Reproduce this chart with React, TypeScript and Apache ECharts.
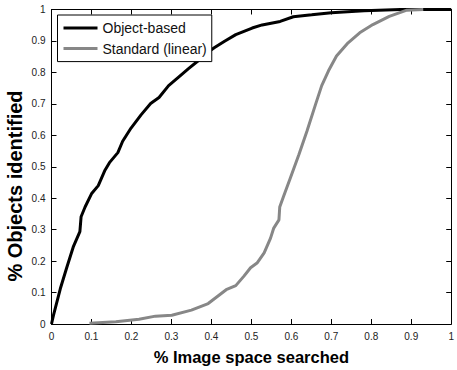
import React, { useEffect, useRef } from "react";
import * as echarts from "echarts";

const seriesNames = ["Object-based", "Standard (linear)"];

const objectX = [0, 0.005, 0.022, 0.038, 0.055, 0.071, 0.074, 0.084, 0.1, 0.117, 0.133, 0.145, 0.166, 0.178, 0.199, 0.224, 0.248, 0.269, 0.293, 0.318, 0.342, 0.367, 0.384, 0.408, 0.433, 0.461, 0.502, 0.527, 0.572, 0.605, 0.651, 0.7, 0.782, 0.873, 1];
const objectY = [0, 0.028, 0.112, 0.179, 0.247, 0.294, 0.341, 0.372, 0.414, 0.44, 0.487, 0.513, 0.545, 0.581, 0.623, 0.665, 0.701, 0.72, 0.758, 0.785, 0.811, 0.837, 0.858, 0.879, 0.899, 0.92, 0.941, 0.951, 0.962, 0.977, 0.983, 0.99, 0.996, 1, 1];

const standardX = [0.095, 0.161, 0.219, 0.26, 0.301, 0.35, 0.392, 0.437, 0.461, 0.482, 0.498, 0.515, 0.532, 0.548, 0.556, 0.569, 0.571, 0.58, 0.598, 0.619, 0.639, 0.66, 0.676, 0.693, 0.713, 0.742, 0.771, 0.804, 0.845, 0.889, 0.93];
const standardY = [0.002, 0.007, 0.015, 0.025, 0.028, 0.044, 0.065, 0.109, 0.122, 0.153, 0.179, 0.195, 0.226, 0.273, 0.305, 0.331, 0.372, 0.404, 0.466, 0.539, 0.613, 0.696, 0.758, 0.805, 0.852, 0.894, 0.926, 0.952, 0.978, 0.998, 1];

const xTitle = "% Image space searched";
const yTitle = "% Objects identified";

const fmt = (v: number) => String(Math.round(v * 10) / 10);

const lineIcon = "path://M0,0H0.01V0.01H0Z M0,5.5H34V8.5H0Z M33.99,13.99H34V14H33.99Z";

export default function App() {
  const ref = useRef<HTMLDivElement>(null);
  useEffect(() => {
    if (!ref.current) return;
    const chart = echarts.init(ref.current, undefined, { renderer: "svg" });
    const font = "Liberation Sans, Arial, Helvetica, sans-serif";
    const tickCommon = {
      min: 0,
      max: 1,
      interval: 0.1,
      type: "value" as const,
      splitLine: { show: false },
      axisLine: { show: true, onZero: false, lineStyle: { color: "#000", width: 1 } },
      axisTick: { show: true, inside: true, length: 5, lineStyle: { color: "#000" } },
    };
    chart.setOption({
      animation: false,
      backgroundColor: "#fff",
      grid: { left: 51.5, right: 1, top: 9.5, bottom: 41, containLabel: false },
      legend: {
        orient: "vertical",
        left: 57.5,
        top: 15,
        padding: [6, 5, 6, 6],
        itemGap: 6.6,
        itemWidth: 34,
        itemHeight: 14,
        icon: lineIcon,
        backgroundColor: "#fff",
        borderColor: "#000",
        borderWidth: 1,
        borderRadius: 0,
        textStyle: { fontFamily: font, fontSize: 14, color: "#111" },
        data: seriesNames,
      },
      graphic: [
        {
          type: "text",
          x: 15,
          y: 186,
          rotation: Math.PI / 2,
          style: {
            text: yTitle,
            fontFamily: font,
            fontSize: 20,
            fontWeight: "bold",
            fill: "#000",
            align: "center",
            verticalAlign: "middle",
          },
        },
      ],
      xAxis: [
        {
          ...tickCommon,
          position: "bottom",
          name: xTitle,
          nameLocation: "middle",
          nameGap: 24,
          nameTextStyle: { fontFamily: font, fontSize: 16.5, fontWeight: "bold", color: "#000" },
          axisLabel: { fontFamily: font, fontSize: 10, color: "#222", margin: 7.5, formatter: fmt },
        },
        {
          ...tickCommon,
          position: "top",
          axisLabel: { show: false },
        },
      ],
      yAxis: [
        {
          ...tickCommon,
          position: "left",
          axisLabel: { fontFamily: font, fontSize: 10, color: "#222", margin: 6, formatter: fmt },
        },
        {
          ...tickCommon,
          position: "right",
          axisLabel: { show: false },
        },
      ],
      series: [
        {
          name: seriesNames[0],
          type: "line",
          showSymbol: false,
          symbol: "none",
          data: objectX.map((x, i) => [x, objectY[i]]),
          lineStyle: { color: "#000", width: 3 },
          itemStyle: { color: "#000" },
        },
        {
          name: seriesNames[1],
          type: "line",
          showSymbol: false,
          symbol: "none",
          data: standardX.map((x, i) => [x, standardY[i]]),
          lineStyle: { color: "#878787", width: 3 },
          itemStyle: { color: "#878787" },
        },
      ],
    });
    return () => chart.dispose();
  }, []);
  return (
    <div
      ref={ref}
      style={{ position: "fixed", left: 0, top: 0, width: 457, height: 370, overflow: "hidden" }}
    />
  );
}
